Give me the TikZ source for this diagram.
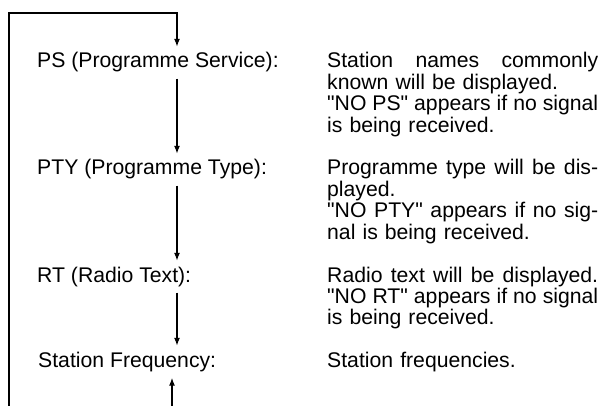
\documentclass[tikz,border=0pt]{standalone}
\usepackage{fontspec}
\setmainfont{Liberation Sans}
\usetikzlibrary{arrows.meta}

% a line set full to the column width
\newcommand{\jline}[1]{\makebox[271pt][s]{\spaceskip=0pt\relax\xspaceskip=0pt\relax #1}}
\newcommand{\qt}[1]{\textquotedbl #1\textquotedbl}

\tikzset{
  lbl/.style={anchor=base west, inner xsep=0pt, inner ysep=6pt, text height=15pt, text depth=4.5pt},
  desc/.style={anchor=base west, inner sep=0pt, text width=272pt, align=left},
  flow/.style={-{Latex[length=8pt,width=6pt]}, line width=1.4pt},
}

\begin{document}
\begin{tikzpicture}[x=1pt, y=-1pt, font=\fontsize{21.2}{21.4}\selectfont]
	 \useasboundingbox (0,0) rectangle (607,406);

	 \node[lbl] (ps) at (37,68) {PS (Programme Service):};
	 \node[lbl] (pty) at (37,175) {PTY (Programme Type):};
	 \node[lbl] (rt) at (37,282) {RT (Radio Text):};
	 \node[lbl] (sf) at (38,367) {Station Frequency:};

	 \node[desc] (psText) at (327,68) {\jline{Station names commonly}\\known will be displayed.\\\jline{\qt{NO PS} appears if no signal}\\is being received.};
	 \node[desc] (ptyText) at (327,175) {\jline{Programme type will be dis-}\\played.\\\jline{\qt{NO PTY} appears if no sig-}\\nal is being received.};
	 \node[desc] (rtText) at (327,282) {\jline{Radio text will be displayed.}\\\jline{\qt{NO RT} appears if no signal}\\is being received.};
	 \node[desc] (sfText) at (327,367) {Station frequencies.};

	 \coordinate (loopIn) at (9,406);
	 \coordinate (loopTop) at (177,13);
	 \coordinate (sfIn) at (172,406);

	 \draw[flow] (loopIn) |- (loopTop) -- (ps.north -| loopTop);
	 \draw[flow] (ps.south -| loopTop) -- (pty.north -| loopTop);
	 \draw[flow] (pty.south -| loopTop) -- (rt.north -| loopTop);
	 \draw[flow] (rt.south -| loopTop) -- (sf.north -| loopTop);
	 \draw[flow] (sfIn) -- (sf.south -| sfIn);
\end{tikzpicture}
\end{document}
